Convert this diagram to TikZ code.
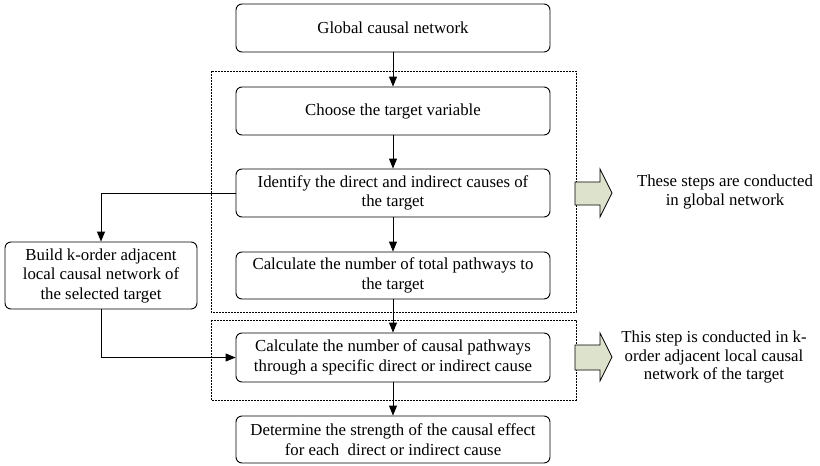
\documentclass[tikz,border=0pt]{standalone}
\usepackage{fontspec}
\setmainfont{Liberation Serif}
\usetikzlibrary{arrows.meta}
\definecolor{blockfill}{RGB}{221,226,204}
\begin{document}
\begin{tikzpicture}[x=1pt,y=-1pt,
  box/.style={draw, rounded corners=6pt, line width=0.9pt, align=center,
    minimum width=314pt, inner sep=2pt, font=\fontsize{16.8}{19.5}\selectfont},
  arr/.style={line width=0.9pt, -{Triangle[length=10pt,width=8pt]}},
  grp/.style={draw, line width=0.8pt, dash pattern=on 1.6pt off 1.4pt},
  blk/.style={draw, fill=blockfill, line width=0.8pt},
  note/.style={align=center, font=\fontsize{16.8}{18.5}\selectfont}]
\useasboundingbox (0,0) rectangle (820,466);
\draw[grp] (211,71) rectangle (576,312);
\draw[grp] (211,320) rectangle (576,400);
\node[box, minimum height=48pt] (global) at (393,28) {Global causal network};
\node[box, minimum height=48pt] (choose) at (393,111) {Choose the target variable};
\node[box, minimum height=48pt] (ident) at (393,193) {Identify the direct and indirect causes of\\the target};
\node[box, minimum height=47pt] (total) at (393,275.5) {Calculate the number of total pathways to\\the target};
\node[box, minimum height=49pt] (causal) at (393,357.5) {Calculate the number of causal pathways\\through a specific direct or indirect cause};
\node[box, minimum height=47pt] (determ) at (393,439.5) {Determine the strength of the causal effect\\for each\ \ direct or indirect cause};
\node[box, minimum width=192pt, minimum height=67pt] (build) at (101,275.5) {Build k-order adjacent\\local causal network of\\the selected target};
\draw[arr] (global) -- (choose);
\draw[arr] (choose) -- (ident);
\draw[arr] (ident) -- (total);
\draw[arr] (total) -- (causal);
\draw[arr] (causal) -- (determ);
\draw[arr] (ident.west) -| (build.north);
\draw[arr] (build.south) |- (causal.west);
\draw[blk] (575,182) -- (600,182) -- (600,169) -- (612,193) -- (600,217) -- (600,205) -- (575,205) -- cycle;
\draw[blk] (575,345) -- (600,345) -- (600,333) -- (612,357) -- (600,381) -- (600,370) -- (575,370) -- cycle;
\node[note] (n1) at (725,192) {These steps are conducted\\in global network};
\node[note] (n2) at (714,357) {This step is conducted in k-\\order adjacent local causal\\network of the target};
\end{tikzpicture}
\end{document}
